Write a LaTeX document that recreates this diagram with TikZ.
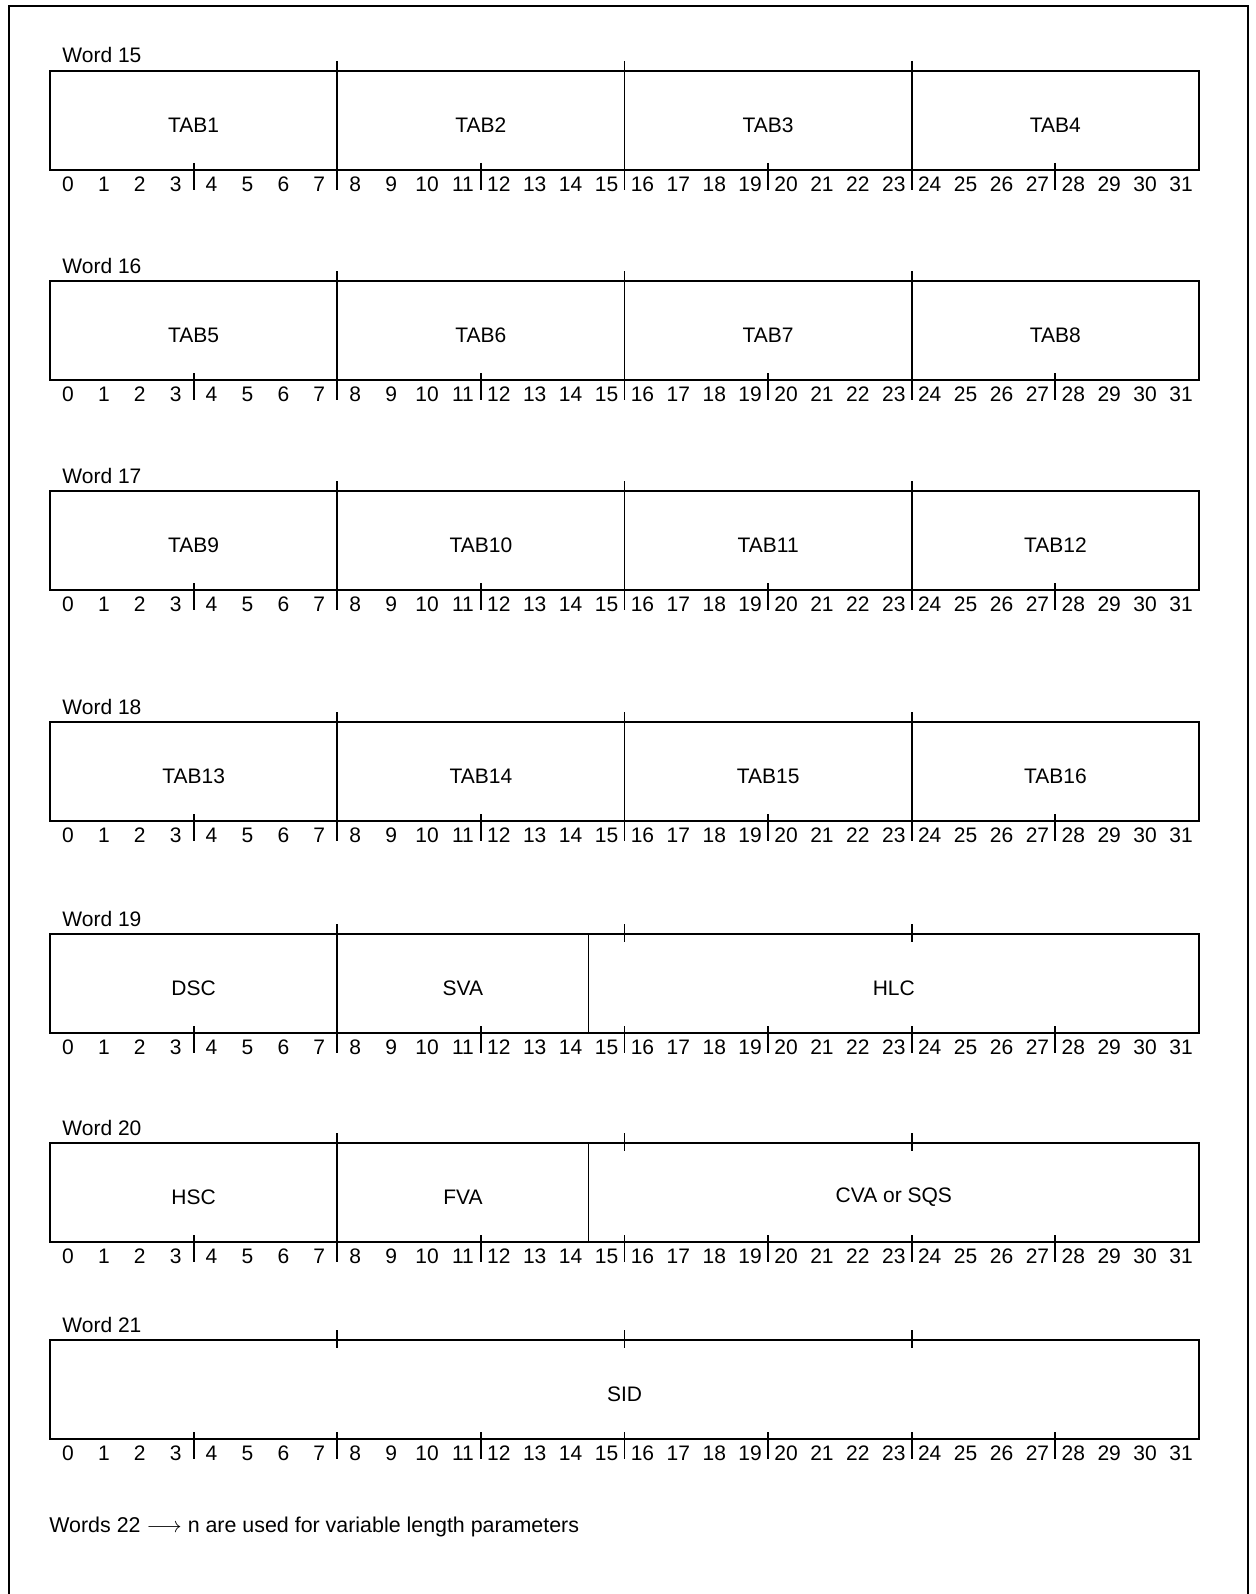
\documentclass[tikz,border=0pt]{standalone}
\usepackage{fontspec}
\setmainfont{Liberation Sans}
\usepackage{tikz}

\newcommand{\bitwd}{35.906}
\newcommand{\wordleft}{50}
\newcommand{\wordright}{1199}
\newcommand{\wordht}{99}

\begin{document}
\begin{tikzpicture}[
  x=0.5pt, y=-0.5pt,
  frame/.style={line width=1.1pt},
  wordbox/.style={draw, line width=1.4pt},
  divider/.style={line width=0.9pt},
  bittick/.style={line width=0.9pt},
  fieldname/.style={font=\fontsize{10.5}{12}\selectfont, inner sep=0pt},
  bitnum/.style={font=\fontsize{10.5}{12}\selectfont, inner sep=0pt},
  wordname/.style={font=\fontsize{10.5}{12}\selectfont, anchor=base west,
                   inner sep=0pt},
  note/.style={font=\fontsize{10.7}{12}\selectfont, anchor=west, inner sep=0pt}
]
\useasboundingbox (0,0) rectangle (1256,1594);
% outer frame, open at the bottom
\draw[frame] (9,1594) -- (9,6) -- (1248,6) -- (1248,1594);

\foreach \w/\ytop/\fields in {
  15/71/{0/8/TAB1,8/16/TAB2,16/24/TAB3,24/32/TAB4},
  16/281/{0/8/TAB5,8/16/TAB6,16/24/TAB7,24/32/TAB8},
  17/491/{0/8/TAB9,8/16/TAB10,16/24/TAB11,24/32/TAB12},
  18/722/{0/8/TAB13,8/16/TAB14,16/24/TAB15,24/32/TAB16},
  19/934/{0/8/DSC,8/15/SVA,15/32/HLC},
  20/1143/{0/8/HSC,8/15/FVA,15/32/CVA or SQS},
  21/1340/{0/32/SID}}{
  \pgfmathsetmacro{\ybot}{\ytop+\wordht}
  \node[wordname] (w\w) at (\wordleft+12,\ytop-8) {Word \w};
  \draw[wordbox] (\wordleft,\ytop) rectangle (\wordright,\ybot);
  % fields and their dividers
  \foreach \s/\e/\t in \fields {
    \pgfmathsetmacro{\fx}{\wordleft+(\s+\e)/2*\bitwd}
    \node[fieldname] (w\w-f\s) at (\fx,\ytop+\wordht/2+5) {\t};
    \ifnum\s>0
      \draw[divider] (\wordleft+\s*\bitwd,\ytop) -- (\wordleft+\s*\bitwd,\ybot);
    \fi
  }
  % byte ticks (top and bottom), nibble ticks (bottom)
  \foreach \k in {8,16,24} {
    \draw[bittick] (\wordleft+\k*\bitwd,\ytop-10) -- ++(0,18);
    \draw[bittick] (\wordleft+\k*\bitwd,\ybot-7) -- ++(0,27);
  }
  \foreach \k in {4,12,20,28}
    \draw[bittick] (\wordleft+\k*\bitwd,\ybot-7) -- ++(0,27);
  % bit numbers
  \foreach \b in {0,...,31}
    \node[bitnum] (w\w-b\b) at (\wordleft+\b*\bitwd+0.5*\bitwd,\ybot+14.5) {\b};
}

\node[note] (note) at (49,1527)
  {Words 22 $\longrightarrow$ n are used for variable length parameters};
\end{tikzpicture}
\end{document}
